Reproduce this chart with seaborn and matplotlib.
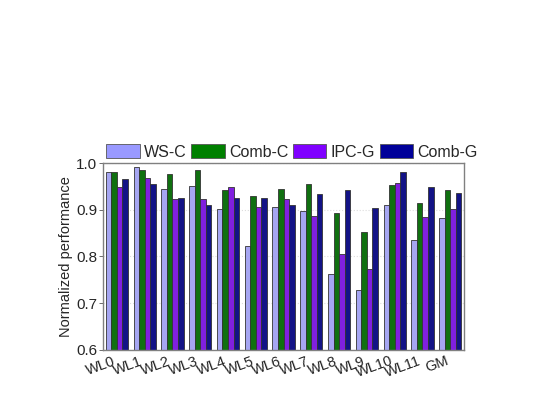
import pandas as pd
import matplotlib
matplotlib.use("Agg")
import matplotlib.pyplot as plt
import seaborn as sns

# valores
workloads = ['WL0', 'WL1', 'WL2', 'WL3', 'WL4', 'WL5', 'WL6', 'WL7',
             'WL8', 'WL9', 'WL10', 'WL11', 'GM']
ws_c   = [0.980, 0.991, 0.944, 0.951, 0.902, 0.822, 0.905, 0.897, 0.763, 0.728, 0.910, 0.836, 0.882]
comb_c = [0.980, 0.986, 0.977, 0.986, 0.942, 0.929, 0.944, 0.956, 0.892, 0.852, 0.952, 0.914, 0.943]
ipc_g  = [0.948, 0.967, 0.923, 0.924, 0.949, 0.906, 0.924, 0.887, 0.805, 0.773, 0.957, 0.884, 0.902]
comb_g = [0.965, 0.956, 0.925, 0.910, 0.926, 0.926, 0.910, 0.934, 0.943, 0.904, 0.981, 0.948, 0.936]

series = ['WS-C', 'Comb-C', 'IPC-G', 'Comb-G']
cores = ['#9999FF', '#008000', '#8000FF', '#000099']

df = pd.DataFrame({'WL': workloads, 'WS-C': ws_c, 'Comb-C': comb_c,
                   'IPC-G': ipc_g, 'Comb-G': comb_g})
df = df.melt(id_vars='WL', var_name='Config', value_name='Perf')

sns.set_theme(style="ticks")
plt.rcParams['font.family'] = ['Liberation Sans', 'DejaVu Sans']

fig = plt.figure(figsize=(5.39, 4.17), dpi=100)
ax = fig.add_axes([0.191, 0.161, 0.670, 0.448])

sns.barplot(data=df, x='WL', y='Perf', hue='Config', hue_order=series,
            palette=cores, width=0.8, edgecolor='#333333', linewidth=0.6,
            ax=ax, legend=False)

ax.set_ylim(0.6, 1.0)
ax.set_yticks([0.6, 0.7, 0.8, 0.9, 1.0])
ax.set_yticklabels(['0.6', '0.7', '0.8', '0.9', '1.0'], fontsize=11)
ax.yaxis.grid(True, linestyle=':', color='#dddddd', linewidth=0.8)
ax.set_axisbelow(True)
ax.set_xlabel('')
ax.set_ylabel('Normalized performance', fontsize=10.5, labelpad=2)
plt.xticks(rotation=20, ha='right', fontsize=10.5)
ax.tick_params(axis='x', length=0, pad=3)
ax.tick_params(axis='y', length=3, width=0.6, pad=1, color='#555555')
for s in ax.spines.values():
    s.set_color('#808080')
    s.set_linewidth(1.0)

# legenda acima do eixo
handles = [plt.Rectangle((0, 0), 1, 1, facecolor=c, edgecolor='#555555', linewidth=0.6)
           for c in cores]
ax.legend(handles, series, ncol=4, loc='lower left', bbox_to_anchor=(0.0, 1.0),
          frameon=False, fontsize=11.5, handlelength=2.1, handleheight=0.95,
          handletextpad=0.25, columnspacing=0.3, borderaxespad=0.1, borderpad=0.1)

plt.savefig('out.png', dpi=100)
